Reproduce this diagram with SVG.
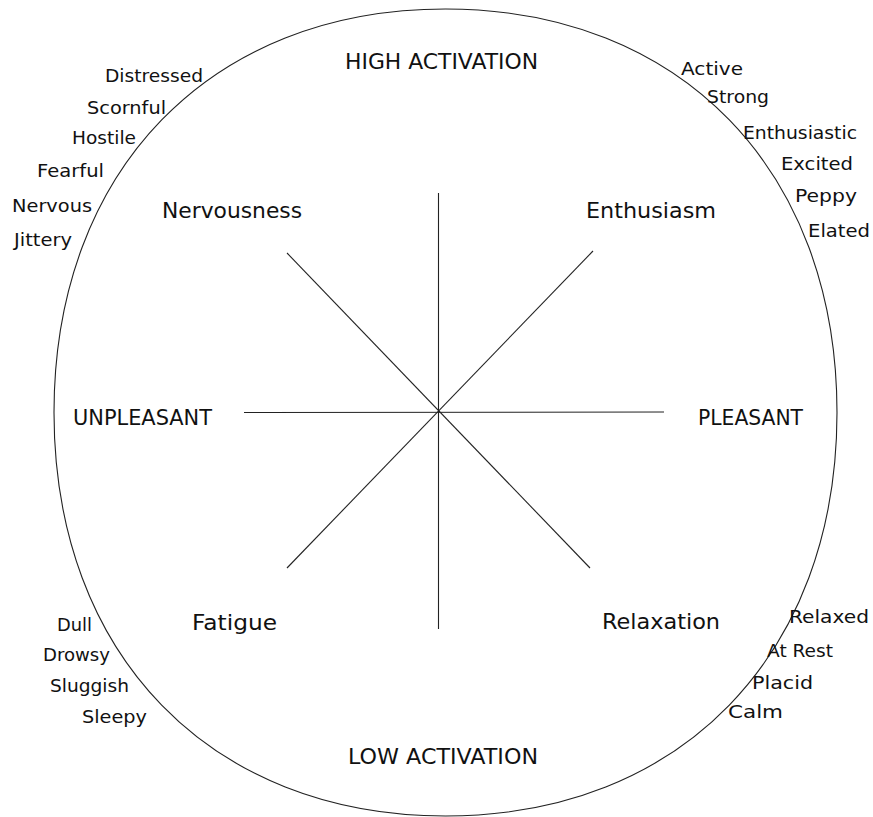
<svg xmlns="http://www.w3.org/2000/svg" width="873" height="817" viewBox="0 0 873 817">
<style>
text { font-family: "DejaVu Sans", "Liberation Sans", sans-serif; fill: #111; }
.main { font-size: 21px; }
.small { font-size: 18px; }
.ln { stroke: #222; stroke-width: 1.1; fill: none; }
</style>
<rect width="873" height="817" fill="#fff"/>
<g id="boundary">
<path class="ln" d="M 837,412.5 C 837,654.6 680.4,816 445.5,816 C 210.6,816 54,654.6 54,412.5 C 54,170.4 210.6,9 445.5,9 C 680.4,9 837,170.4 837,412.5 Z"/>
</g>
<g id="connectors">
<line class="ln" x1="438.5" y1="193" x2="438.5" y2="629"/>
<line class="ln" x1="244" y1="412.5" x2="664" y2="412"/>
<line class="ln" x1="287" y1="253" x2="590" y2="568"/>
<line class="ln" x1="593" y1="251" x2="287" y2="568"/>
</g>
<g id="high-activation"><text class="main" x="345" y="69" textLength="193" lengthAdjust="spacingAndGlyphs">HIGH ACTIVATION</text></g>
<g id="low-activation"><text class="main" x="348" y="764" textLength="190" lengthAdjust="spacingAndGlyphs">LOW ACTIVATION</text></g>
<g id="unpleasant"><text class="main" x="73" y="425" textLength="139" lengthAdjust="spacingAndGlyphs">UNPLEASANT</text></g>
<g id="pleasant"><text class="main" x="698" y="425" textLength="105" lengthAdjust="spacingAndGlyphs">PLEASANT</text></g>
<g id="nervousness"><text class="main" x="162" y="218" textLength="140" lengthAdjust="spacingAndGlyphs">Nervousness</text></g>
<g id="enthusiasm"><text class="main" x="586" y="218" textLength="130" lengthAdjust="spacingAndGlyphs">Enthusiasm</text></g>
<g id="fatigue"><text class="main" x="192" y="630" textLength="85" lengthAdjust="spacingAndGlyphs">Fatigue</text></g>
<g id="relaxation"><text class="main" x="602" y="629" textLength="118" lengthAdjust="spacingAndGlyphs">Relaxation</text></g>
<g id="nervousness-terms">
<text class="small" x="105" y="82" textLength="98" lengthAdjust="spacingAndGlyphs">Distressed</text>
<text class="small" x="87" y="114" textLength="79" lengthAdjust="spacingAndGlyphs">Scornful</text>
<text class="small" x="72" y="144" textLength="64" lengthAdjust="spacingAndGlyphs">Hostile</text>
<text class="small" x="37" y="177" textLength="67" lengthAdjust="spacingAndGlyphs">Fearful</text>
<text class="small" x="12" y="212" textLength="80" lengthAdjust="spacingAndGlyphs">Nervous</text>
<text class="small" x="14" y="246" textLength="58" lengthAdjust="spacingAndGlyphs">Jittery</text>
</g>
<g id="enthusiasm-terms">
<text class="small" x="681" y="75" textLength="62" lengthAdjust="spacingAndGlyphs">Active</text>
<text class="small" x="707" y="103" textLength="62" lengthAdjust="spacingAndGlyphs">Strong</text>
<text class="small" x="743" y="139" textLength="114" lengthAdjust="spacingAndGlyphs">Enthusiastic</text>
<text class="small" x="781" y="170" textLength="72" lengthAdjust="spacingAndGlyphs">Excited</text>
<text class="small" x="795" y="202" textLength="62" lengthAdjust="spacingAndGlyphs">Peppy</text>
<text class="small" x="808" y="237" textLength="62" lengthAdjust="spacingAndGlyphs">Elated</text>
</g>
<g id="fatigue-terms">
<text class="small" x="57" y="631" textLength="35" lengthAdjust="spacingAndGlyphs">Dull</text>
<text class="small" x="43" y="661" textLength="67" lengthAdjust="spacingAndGlyphs">Drowsy</text>
<text class="small" x="50" y="692" textLength="79" lengthAdjust="spacingAndGlyphs">Sluggish</text>
<text class="small" x="82" y="723" textLength="65" lengthAdjust="spacingAndGlyphs">Sleepy</text>
</g>
<g id="relaxation-terms">
<text class="small" x="789" y="623" textLength="80" lengthAdjust="spacingAndGlyphs">Relaxed</text>
<text class="small" x="767" y="657" textLength="66" lengthAdjust="spacingAndGlyphs">At Rest</text>
<text class="small" x="752" y="689" textLength="61" lengthAdjust="spacingAndGlyphs">Placid</text>
<text class="small" x="728" y="718" textLength="55" lengthAdjust="spacingAndGlyphs">Calm</text>
</g>
</svg>
